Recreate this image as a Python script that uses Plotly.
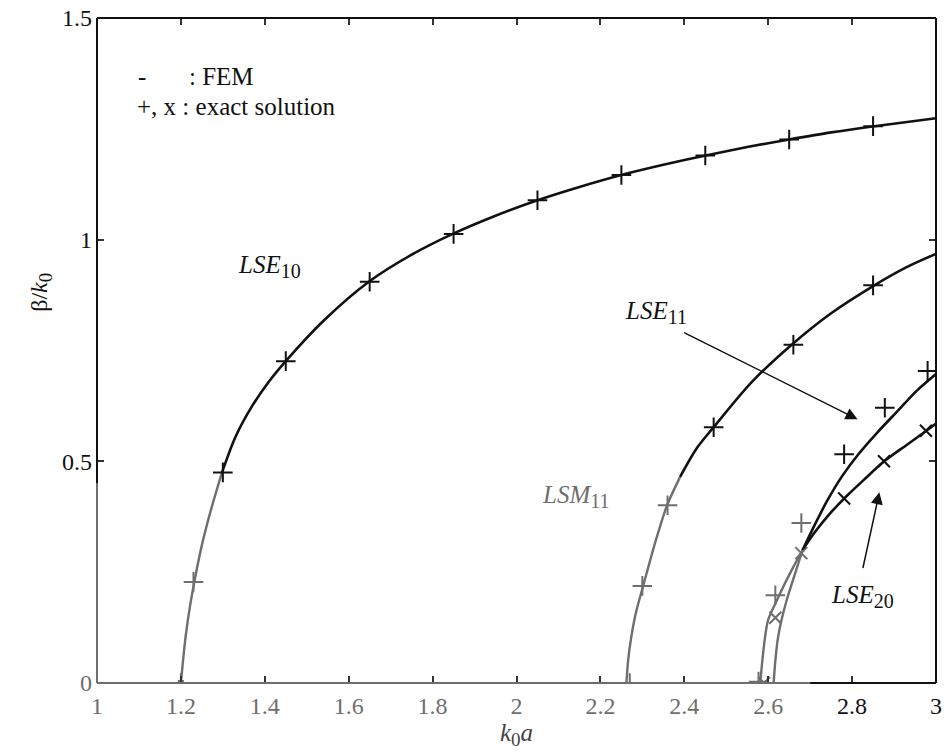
import plotly.graph_objects as go

# ---------------- data ----------------
# FEM curves
lse10_x = [1.200, 1.205, 1.212, 1.222, 1.232, 1.250, 1.270, 1.298, 1.330, 1.370, 1.410, 1.450,
           1.540, 1.648, 1.750, 1.848, 1.950, 2.050, 2.150, 2.250, 2.350, 2.451, 2.550, 2.650,
           2.750, 2.853, 3.000]
lse10_y = [0.000, 0.050, 0.110, 0.175, 0.228, 0.311, 0.385, 0.475, 0.555, 0.625, 0.680, 0.726,
           0.817, 0.905, 0.966, 1.013, 1.054, 1.089, 1.119, 1.146, 1.169, 1.190, 1.209, 1.226,
           1.242, 1.256, 1.274]

lsm11_x = [2.262, 2.266, 2.273, 2.285, 2.302, 2.330, 2.359, 2.390, 2.430, 2.470, 2.560, 2.656,
           2.750, 2.853, 2.930, 3.000]
lsm11_y = [0.000, 0.050, 0.100, 0.160, 0.219, 0.315, 0.401, 0.465, 0.530, 0.577, 0.678, 0.763,
           0.834, 0.897, 0.938, 0.968]

lse11_x = [2.581, 2.586, 2.592, 2.600, 2.620, 2.640, 2.660, 2.682, 2.710, 2.740, 2.775, 2.815,
           2.860, 2.910, 2.955, 3.000]
lse11_y = [0.000, 0.050, 0.100, 0.143, 0.185, 0.225, 0.262, 0.300, 0.355, 0.410, 0.465, 0.516,
           0.565, 0.615, 0.660, 0.697]

lse20_x = [2.613, 2.617, 2.623, 2.632, 2.645, 2.660, 2.682, 2.711, 2.745, 2.781, 2.830, 2.875,
           2.930, 2.977, 3.000]
lse20_y = [0.000, 0.050, 0.100, 0.143, 0.190, 0.235, 0.300, 0.340, 0.380, 0.416, 0.460, 0.499,
           0.537, 0.569, 0.585]

# exact solution markers
ex_lse10_x = [1.20, 1.23, 1.30, 1.45, 1.65, 1.85, 2.05, 2.25, 2.45, 2.65, 2.85]
ex_lse10_y = [0.000, 0.228, 0.475, 0.726, 0.905, 1.013, 1.089, 1.146, 1.190, 1.226, 1.256]

ex_lsm11_x = [2.27, 2.30, 2.36, 2.47, 2.66, 2.85]
ex_lsm11_y = [0.000, 0.219, 0.401, 0.577, 0.763, 0.897]

ex_lse11_x = [2.577, 2.617, 2.679, 2.781, 2.878, 2.980]
ex_lse11_y = [0.003, 0.198, 0.361, 0.516, 0.621, 0.704]

ex_lse20_x = [2.590, 2.617, 2.679, 2.781, 2.876, 2.976]
ex_lse20_y = [0.000, 0.147, 0.293, 0.416, 0.500, 0.569]

x_ticks = [1.0, 1.2, 1.4, 1.6, 1.8, 2.0, 2.2, 2.4, 2.6, 2.8, 3.0]
x_ticklabels = ["1", "1.2", "1.4", "1.6", "1.8", "2", "2.2", "2.4", "2.6", "2.8", "3"]
y_ticks = [0.0, 0.5, 1.0, 1.5]
y_ticklabels = ["0", "0.5", "1", "1.5"]

# ---------------- style ----------------
BLACK = "#111111"
GRAY = "#6e6e6e"
FONT = "'Liberation Serif', 'Times New Roman', Times, serif"

fig = go.Figure()


def split_line(xs, ys, thr):
    """gray part up to first point with y >= thr, black part from there on"""
    k = next(i for i, v in enumerate(ys) if v >= thr)
    return (xs[:k + 1], ys[:k + 1]), (xs[k:], ys[k:])


def add_line(xs, ys, thr):
    (gx, gy), (bx, by) = split_line(xs, ys, thr)
    fig.add_trace(go.Scatter(x=gx, y=gy, mode="lines",
                             line=dict(color=GRAY, width=2.4, shape="spline", smoothing=0.8),
                             showlegend=False, hoverinfo="skip"))
    fig.add_trace(go.Scatter(x=bx, y=by, mode="lines",
                             line=dict(color=BLACK, width=2.6, shape="spline", smoothing=0.8),
                             showlegend=False, hoverinfo="skip"))


def add_markers(xs, ys, thr, symbol, size):
    cols = [GRAY if v < thr else BLACK for v in ys]
    fig.add_trace(go.Scatter(x=xs, y=ys, mode="markers",
                             marker=dict(symbol=symbol, size=size, color=cols,
                                         line=dict(color=cols, width=2)),
                             showlegend=False, hoverinfo="skip"))


add_line(lse10_x, lse10_y, 0.475)
add_line(lsm11_x, lsm11_y, 0.465)
add_line(lse11_x, lse11_y, 0.30)
add_line(lse20_x, lse20_y, 0.30)

add_markers(ex_lse10_x, ex_lse10_y, 0.47, "cross-thin", 14)
add_markers(ex_lsm11_x, ex_lsm11_y, 0.44, "cross-thin", 14)
add_markers(ex_lse11_x, ex_lse11_y, 0.37, "cross-thin", 14)
add_markers(ex_lse20_x, ex_lse20_y, 0.37, "x-thin", 12)

# small square at the LSE10 cutoff
fig.add_trace(go.Scatter(x=ex_lse10_x[:1], y=ex_lse10_y[:1], mode="markers",
                         marker=dict(symbol="square", size=6, color=GRAY),
                         showlegend=False, hoverinfo="skip"))


def colored(lbls, gray_set):
    out = []
    for t in lbls:
        if t in gray_set:
            out.append('<span style="color:%s">%s</span>' % (GRAY, t))
        else:
            out.append(t)
    return out


x_text = colored(x_ticklabels, {"1", "1.2", "1.4", "1.6", "1.8", "2", "2.2", "2.4", "2.6"})
y_text = colored(y_ticklabels, {"0"})

axis_common = dict(showgrid=False, zeroline=False, showline=False, ticks="inside",
                   ticklen=7, tickwidth=1.5, tickcolor="#333333", mirror="ticks",
                   ticklabeloverflow="allow",
                   tickfont=dict(family=FONT, size=24, color=BLACK))

fig.update_xaxes(range=[1, 3], tickvals=x_ticks, ticktext=x_text, ticklabelstandoff=6,
                 **axis_common)
fig.update_yaxes(range=[0, 1.5], tickvals=y_ticks, ticktext=y_text, ticklabelstandoff=4,
                 **axis_common)

# frame
frame = [
    (0, 0, 0, 0.30, GRAY), (0, 0.30, 0, 1, BLACK),
    (0, 0, 0.85, 0, GRAY), (0.85, 0, 1, 0, BLACK),
    (0, 1, 1, 1, BLACK), (1, 0, 1, 1, BLACK),
]
shapes = [dict(type="line", xref="paper", yref="paper", x0=a, y0=b, x1=c, y1=d,
               line=dict(color=col, width=2)) for a, b, c, d, col in frame]


def sub(main, s):
    return '<i>%s</i><sub><span style="font-size:20px">%s</span></sub>' % (main, s)


ann = []
# axis titles
ann.append(dict(xref="paper", yref="paper", x=0.5, y=-0.078, showarrow=False,
                text='<i>k</i><sub><span style="font-size:19px">0</span></sub><i>a</i>',
                font=dict(family=FONT, size=25, color="#444444"),
                xanchor="center", yanchor="middle"))
ann.append(dict(xref="paper", yref="paper", x=-0.067, y=0.588, showarrow=False, textangle=-90,
                text='β/<i>k</i><sub><span style="font-size:19px">0</span></sub>',
                font=dict(family=FONT, size=24, color=BLACK),
                xanchor="center", yanchor="middle"))
# legend-like text
ann.append(dict(xref="x", yref="y", x=1.107, y=1.367, showarrow=False, text="-",
                font=dict(family=FONT, size=25, color=BLACK), xanchor="center", yanchor="middle"))
ann.append(dict(xref="x", yref="y", x=1.215, y=1.367, showarrow=False, text=": FEM",
                font=dict(family=FONT, size=25, color=BLACK), xanchor="left", yanchor="middle"))
ann.append(dict(xref="x", yref="y", x=1.090, y=1.300, showarrow=False,
                text="+, x : exact solution",
                font=dict(family=FONT, size=25, color=BLACK), xanchor="left", yanchor="middle"))
# curve labels
ann.append(dict(xref="x", yref="y", x=1.41, y=0.939, showarrow=False,
                text=sub("LSE", "10"), font=dict(family=FONT, size=25, color=BLACK)))
ann.append(dict(xref="x", yref="y", x=2.143, y=0.421, showarrow=False,
                text=sub("LSM", "11"), font=dict(family=FONT, size=25, color=GRAY)))
ann.append(dict(xref="x", yref="y", x=2.333, y=0.835, showarrow=False,
                text=sub("LSE", "11"), font=dict(family=FONT, size=25, color=BLACK)))
ann.append(dict(xref="x", yref="y", x=2.825, y=0.195, showarrow=False,
                text=sub("LSE", "20"), font=dict(family=FONT, size=25, color=BLACK)))
# arrows
ann.append(dict(xref="x", yref="y", axref="x", ayref="y", x=2.813, y=0.595, ax=2.396, ay=0.792,
                text="", showarrow=True, arrowhead=2, arrowsize=1.6, arrowwidth=1.5,
                arrowcolor=BLACK))
ann.append(dict(xref="x", yref="y", axref="x", ayref="y", x=2.865, y=0.430, ax=2.825, ay=0.256,
                text="", showarrow=True, arrowhead=2, arrowsize=1.6, arrowwidth=1.5,
                arrowcolor=BLACK))

fig.update_layout(width=944, height=753, margin=dict(l=97, r=2, t=18, b=70),
                  paper_bgcolor="white", plot_bgcolor="white", shapes=shapes,
                  annotations=ann, showlegend=False,
                  font=dict(family=FONT, size=24, color=BLACK))

fig.write_html("out.html")
